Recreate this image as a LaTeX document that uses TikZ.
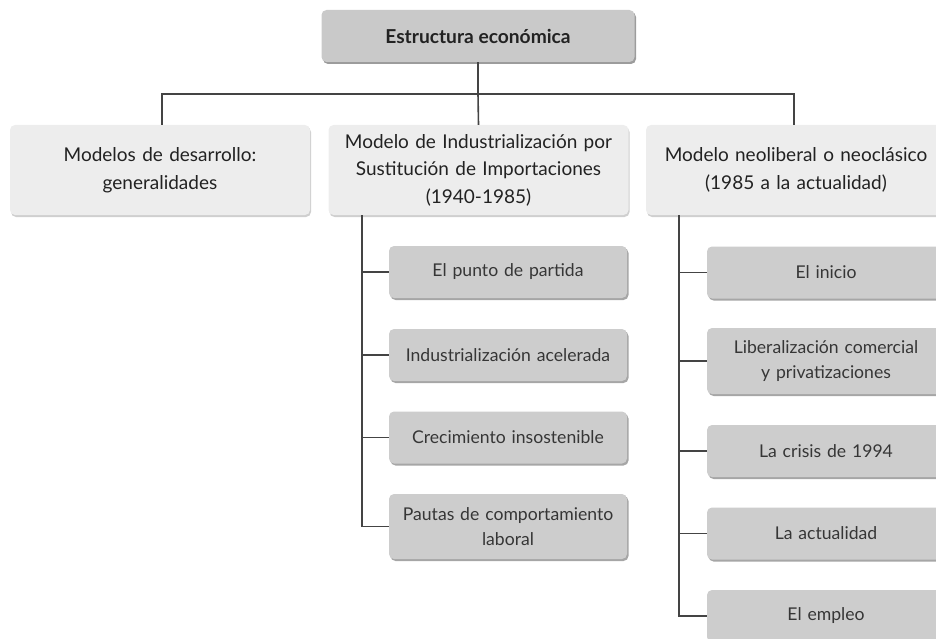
\documentclass[tikz,border=0pt]{standalone}
\usepackage{fontspec}
\setmainfont{Lato}
\usetikzlibrary{shadows}
\definecolor{linegray}{HTML}{444444}
\definecolor{topfill}{HTML}{C9C9C9}
\definecolor{topshade}{HTML}{9C9C9C}
\definecolor{modfill}{HTML}{EDEDED}
\definecolor{modshade}{HTML}{CFCFCF}
\definecolor{subfill}{HTML}{CDCDCD}
\definecolor{subshade}{HTML}{A6A6A6}
\definecolor{textgray}{HTML}{222222}
\definecolor{topicgray}{HTML}{363636}
\tikzset{
  conn/.style={draw=linegray, line width=1.6pt},
  titlebox/.style={fill=topfill, rounded corners=5pt, minimum width=313pt, minimum height=52pt,
    drop shadow={shadow xshift=1.5pt, shadow yshift=-2pt, fill=topshade, opacity=1},
    font=\fontsize{19.2}{22}\selectfont\bfseries, text=textgray},
  modelbox/.style={fill=modfill, rounded corners=5pt, minimum width=300pt, minimum height=90pt,
    text width=296pt, align=center, inner sep=0pt,
    drop shadow={shadow xshift=1pt, shadow yshift=-2pt, fill=modshade, opacity=1},
    font=\fontsize{19}{27.5}\selectfont, text=textgray},
  topicbox/.style={fill=subfill, rounded corners=5pt, minimum width=238pt, minimum height=52pt,
    text width=234pt, align=center, inner sep=0pt,
    drop shadow={shadow xshift=1.5pt, shadow yshift=-2pt, fill=subshade, opacity=1},
    font=\fontsize{17.6}{24.5}\selectfont, text=topicgray}
}
\begin{document}
\begin{tikzpicture}[x=1pt, y=-1pt]
  \useasboundingbox (0,0) rectangle (936,639);
  \clip (0,0) rectangle (936,639);
  % main nodes
  \node[titlebox] (econ) at (478,36) {Estructura económica};
  \node[modelbox] (gen) at (160,170) {Modelos de desarrollo:\\generalidades};
  \node[modelbox] (isi) at (478.5,170) {Modelo de Industrialización por\\Sustitución de Importaciones\\(1940-1985)};
  \node[modelbox] (neo) at (796,170) {Modelo neoliberal o neoclásico\\(1985 a la actualidad)};
  % ISI topics
  \node[topicbox] (partida) at (508,272) {El punto de partida};
  \node[topicbox] (acel) at (508,355) {Industrialización acelerada};
  \node[topicbox] (insost) at (508,437.5) {Crecimiento insostenible};
  \node[topicbox, minimum height=65pt] (pautas) at (508,526.5) {Pautas de comportamiento\\laboral};
  % neoliberal topics
  \node[topicbox] (inicio) at (826,272.5) {El inicio};
  \node[topicbox, minimum height=66pt] (liber) at (826,361) {Liberalización comercial\\y privatizaciones};
  \node[topicbox] (crisis) at (826,451) {La crisis de 1994};
  \node[topicbox] (actual) at (826,533.5) {La actualidad};
  \node[topicbox] (empleo) at (826,616) {El empleo};
  % connectors
  \coordinate (bar) at (478,94);
  \coordinate (isitrunk) at (362,215);
  \coordinate (neotrunk) at (679,215);
  \draw[conn] (econ) -- (bar);
  \draw[conn] (bar) -- (isi.north);
  \draw[conn] (gen.north -| 162,0) |- (bar) -| (neo.north -| 794,0);
  \draw[conn] (isitrunk) |- (pautas.west);
  \foreach \t in {partida, acel, insost}
    \draw[conn] (isitrunk |- \t.west) -- (\t.west);
  \draw[conn] (neotrunk) |- (empleo.west);
  \foreach \t in {inicio, liber, crisis, actual}
    \draw[conn] (neotrunk |- \t.west) -- (\t.west);
\end{tikzpicture}
\end{document}
